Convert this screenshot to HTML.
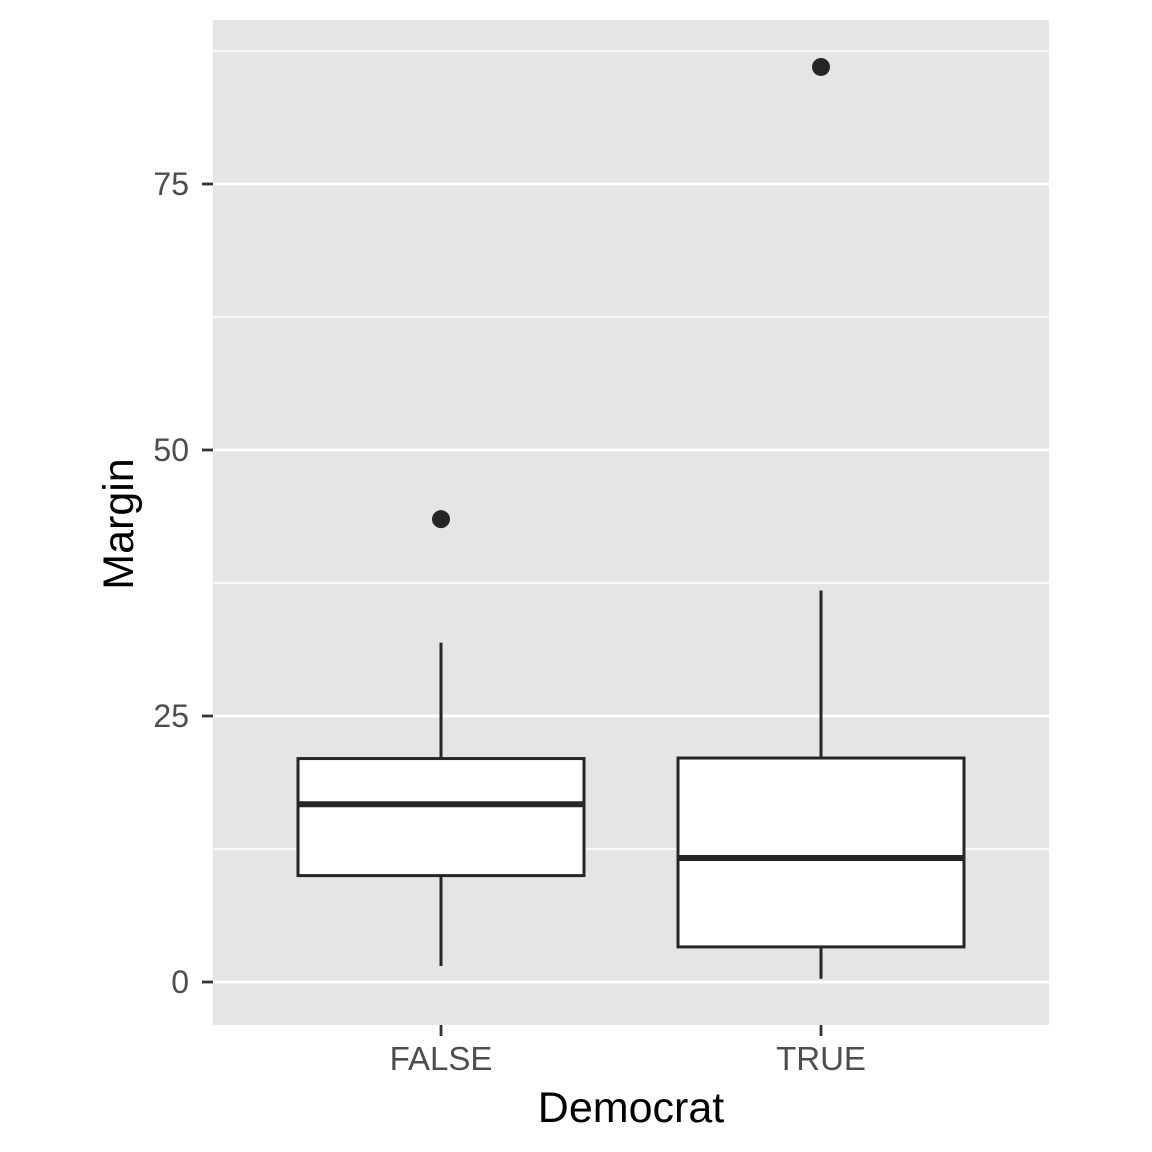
<!DOCTYPE html>
<html><head><meta charset="utf-8"><style>
body{margin:0;background:#fff;}
svg{display:block;font-family:"Liberation Sans",Arial,sans-serif;}
</style></head><body>
<svg id="chart" width="1152" height="1152"></svg>
<script>
const categories=["FALSE","TRUE"];
const lowerWhisker=[1.5,0.3];
const q1=[10.0,3.3];
const medians=[16.7,11.65];
const q3=[21.0,21.05];
const upperWhisker=[31.9,36.8];
const outliers=[[43.5],[86.0]];
const yTicks=[0,25,50,75];
const yMinor=[12.5,37.5,62.5,87.5];

const NS="http://www.w3.org/2000/svg";
const svg=document.getElementById('chart');
const PL=213,PR=1049,PT=20,PB=1025;
const y=v=>982-v*10.64;
const x=i=>441+i*380;
const boxHalf=143;
function mk(t,a,p){const e=document.createElementNS(NS,t);for(const k in a)e.setAttribute(k,a[k]);(p||svg).appendChild(e);return e;}

const panel=mk('rect',{x:PL,y:PT,width:PR-PL,height:PB-PT,fill:'#e5e5e5'});


yMinor.forEach(v=>{const l=mk('line',{x1:PL,x2:PR,y1:y(v),y2:y(v),stroke:'#fff','stroke-width':1.4});

});
yTicks.forEach(v=>{const l=mk('line',{x1:PL,x2:PR,y1:y(v),y2:y(v),stroke:'#fff','stroke-width':2.8});


const t=mk('line',{x1:202,x2:213,y1:y(v),y2:y(v),stroke:'#333','stroke-width':2.8});


const tx=mk('text',{x:189,y:y(v)+11,'text-anchor':'end','font-size':32,fill:'#4d4d4d'});tx.textContent=v;

});
categories.forEach((c,i)=>{
const cx=x(i);
const g=mk('g',{});


mk('line',{x1:cx,x2:cx,y1:y(upperWhisker[i]),y2:y(q3[i]),stroke:'#262626','stroke-width':3},g);
mk('line',{x1:cx,x2:cx,y1:y(q1[i]),y2:y(lowerWhisker[i]),stroke:'#262626','stroke-width':3},g);
mk('rect',{x:cx-boxHalf,y:y(q3[i]),width:boxHalf*2,height:y(q1[i])-y(q3[i]),fill:'#fff',stroke:'#262626','stroke-width':3},g);
mk('line',{x1:cx-boxHalf,x2:cx+boxHalf,y1:y(medians[i]),y2:y(medians[i]),stroke:'#262626','stroke-width':6},g);
outliers[i].forEach(o=>{const p=mk('circle',{cx:cx,cy:y(o),r:9,fill:'#262626'});

});
const t=mk('line',{x1:cx,x2:cx,y1:PB,y2:PB+11,stroke:'#333','stroke-width':2.8});


const tx=mk('text',{x:cx,y:1070,'text-anchor':'middle','font-size':33,fill:'#4d4d4d'});tx.textContent=c;


});
const xt=mk('text',{x:631,y:1122,'text-anchor':'middle','font-size':43,fill:'#000'});xt.textContent='Democrat';


const yt=mk('text',{x:0,y:0,'text-anchor':'middle','font-size':43,fill:'#000',transform:'translate(133,524) rotate(-90)'});yt.textContent='Margin';


</script>
</body></html>
